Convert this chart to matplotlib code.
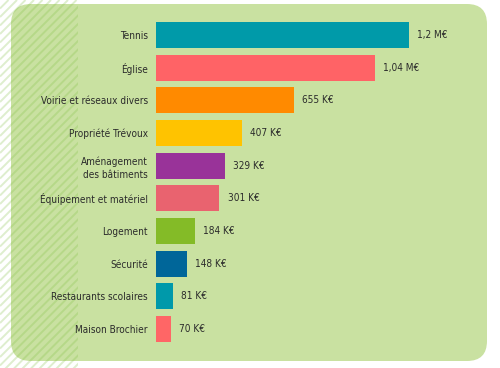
import numpy as np
import matplotlib.pyplot as plt
from matplotlib.patches import FancyBboxPatch, Rectangle

# données
postes = ["Tennis", "Église", "Voirie et réseaux divers", "Propriété Trévoux",
          "Aménagement\ndes bâtiments", "Équipement et matériel", "Logement",
          "Sécurité", "Restaurants scolaires", "Maison Brochier"]
montants = [1200, 1040, 655, 407, 329, 301, 184, 148, 81, 70]  # en K€
etiquettes = ["1,2 M€", "1,04 M€", "655 K€", "407 K€", "329 K€", "301 K€",
              "184 K€", "148 K€", "81 K€", "70 K€"]
couleurs = ["#009aa9", "#ff6366", "#ff8a00", "#ffc300", "#993399",
            "#e9636f", "#84bb27", "#006699", "#0099aa", "#ff6666"]

W, H = 500, 368
plt.rcParams['font.family'] = ['DejaVu Sans']
plt.rcParams['font.stretch'] = 'condensed'
fig = plt.figure(figsize=(W/100, H/100), dpi=100)
fig.patch.set_facecolor("white")

# fond : cadre arrondi + hachures à gauche
bg = fig.add_axes([0, 0, 1, 1])
bg.set_xlim(0, W)
bg.set_ylim(H, 0)
bg.axis("off")
bg.add_patch(FancyBboxPatch((11, 4), 476, 357,
                            boxstyle="round,pad=0,rounding_size=20",
                            fc="#c9e1a1", ec="none"))
clip = Rectangle((0, 0), 78, H, transform=bg.transData)
for c in np.arange(0, W + H, 8.5):
    ln, = bg.plot([0, c], [c, 0], color="#7fbf3f", alpha=0.25, lw=1.4,
                  solid_capstyle="butt")
    ln.set_clip_path(clip)

# barres
ax = fig.add_axes([156/W, 1 - 345.3/H, (409-156)/W, 326.7/H])
ax.set_facecolor("none")
y = np.arange(len(postes))
ax.barh(y, montants, height=0.8, color=couleurs)
ax.set_xlim(0, 1200)
ax.set_ylim(len(postes) - 0.5, -0.5)
ax.set_yticks(y)
ax.set_yticklabels(postes, fontsize=7.2, color="#2b2b2b", linespacing=1.35)
ax.tick_params(axis="y", length=0, pad=6)
ax.set_xticks([])
for s in ax.spines.values():
    s.set_visible(False)

for yi, v, t in zip(y, montants, etiquettes):
    ax.annotate(t, (v, yi), xytext=(5.8, 0), textcoords="offset points",
                va="center", ha="left", fontsize=7.2, color="#2b2b2b",
                annotation_clip=False)

plt.savefig("out.png", dpi=100)
